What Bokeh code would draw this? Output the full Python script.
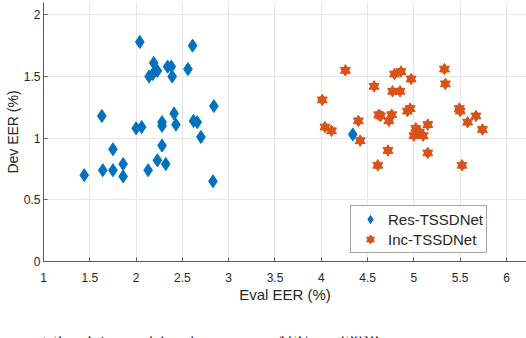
from bokeh.plotting import figure
from bokeh.models import Range1d, FixedTicker, Legend, LegendItem, Label
from bokeh.layouts import column
from bokeh.embed import file_html
from bokeh.resources import INLINE

# Res-TSSDNet (blue diamonds)
res_eval = [2.04, 2.61, 2.19, 2.14, 2.18, 2.23, 2.34, 2.38, 2.39, 2.56,
            1.63, 2.00, 2.06, 2.28, 2.28, 2.41, 2.43, 2.62, 2.66, 2.84,
            2.70, 1.75, 2.28, 2.23, 1.44, 1.64, 1.75, 1.86, 1.86, 2.13,
            2.32, 2.83, 4.34]
res_dev = [1.78, 1.75, 1.61, 1.50, 1.52, 1.545, 1.58, 1.58, 1.50, 1.56,
           1.18, 1.08, 1.09, 1.13, 1.10, 1.20, 1.11, 1.14, 1.13, 1.26,
           1.01, 0.91, 0.94, 0.82, 0.70, 0.74, 0.74, 0.79, 0.69, 0.74,
           0.79, 0.65, 1.03]

# Inc-TSSDNet (orange hexagrams)
inc_eval = [4.26, 4.01, 4.04, 4.11, 4.40, 4.42, 4.57, 4.62, 4.64, 4.73,
            4.76, 4.72, 4.61, 4.79, 4.86, 4.77, 4.85, 4.97, 4.93, 4.96,
            5.02, 5.00, 5.06, 5.10, 5.15, 5.15, 5.33, 5.34, 5.49, 5.50,
            5.58, 5.67, 5.74, 5.52]
inc_dev = [1.55, 1.31, 1.09, 1.06, 1.14, 0.98, 1.42, 1.19, 1.18, 1.14,
           1.19, 0.90, 0.78, 1.52, 1.54, 1.38, 1.38, 1.48, 1.22, 1.24,
           1.08, 1.02, 1.05, 1.02, 1.11, 0.88, 1.56, 1.44, 1.24, 1.22,
           1.13, 1.18, 1.07, 0.78]

x_ticks = [1, 1.5, 2, 2.5, 3, 3.5, 4, 4.5, 5, 5.5, 6]
x_tick_labels = ["1", "1.5", "2", "2.5", "3", "3.5", "4", "4.5", "5", "5.5", "6"]
y_ticks = [0, 0.5, 1, 1.5, 2]
y_tick_labels = ["0", "0.5", "1", "1.5", "2"]

series_names = ["Res-TSSDNet", "Inc-TSSDNet"]
caption = "Fig. 3.\u2003 Intra-model performance on ASVspoof2019"

BLUE = "#0072BD"
ORANGE = "#D95319"
AXC = "#262626"
FONT = "Liberation Sans"

p = figure(width=526, height=331, output_backend="svg", toolbar_location=None,
           x_range=Range1d(1, 6.216), y_range=Range1d(0, 2.1),
           min_border_left=43, min_border_right=0, min_border_top=2,
           min_border_bottom=70)
p.outline_line_color = None
p.background_fill_color = "white"

for ax in (p.xaxis[0], p.yaxis[0]):
    ax.axis_line_color = "#5a5a5a"
    ax.axis_line_width = 1
    ax.major_tick_line_color = "#5a5a5a"
    ax.major_tick_in = 4
    ax.major_tick_out = 0
    ax.minor_tick_line_color = None
    ax.major_label_text_font = FONT
    ax.major_label_text_font_size = "12px"
    ax.major_label_text_color = AXC
    ax.axis_label_text_font = FONT
    ax.axis_label_text_font_size = "15px"
    ax.axis_label_text_font_style = "normal"
    ax.axis_label_text_color = AXC

p.yaxis.axis_label_text_font_size = "14px"
p.xaxis.ticker = FixedTicker(ticks=x_ticks)
p.yaxis.ticker = FixedTicker(ticks=y_ticks)
p.xaxis.major_label_overrides = dict(zip(x_ticks, x_tick_labels))
p.yaxis.major_label_overrides = dict(zip(y_ticks, y_tick_labels))
p.xaxis.axis_label = "Eval EER (%)"
p.yaxis.axis_label = "Dev EER (%)"
p.xaxis.major_label_standoff = 11
p.xaxis.axis_label_standoff = 1
p.yaxis.major_label_standoff = 3
p.yaxis.axis_label_standoff = 0

p.xgrid.grid_line_color = "#e6e6e6"
p.ygrid.grid_line_color = "#e6e6e6"

r_res = p.scatter(res_eval, res_dev, marker="diamond", size=13,
                  fill_color=BLUE, line_color=BLUE)
r_tri = p.scatter(inc_eval, inc_dev, marker="triangle", size=10,
                  fill_color=ORANGE, line_color=ORANGE)
r_inv = p.scatter(inc_eval, inc_dev, marker="inverted_triangle", size=10,
                  fill_color=ORANGE, line_color=ORANGE)

legend = Legend(items=[LegendItem(label=series_names[0], renderers=[r_res]),
                       LegendItem(label=series_names[1], renderers=[r_tri, r_inv])],
                location=(307, 8), padding=3, margin=0, spacing=0,
                glyph_width=32, glyph_height=20, label_height=20,
                label_standoff=2,
                label_text_font=FONT, label_text_font_size="15px",
                label_text_color=AXC,
                border_line_color="#4d4d4d", border_line_width=1,
                background_fill_color="white", background_fill_alpha=1)
p.add_layout(legend, "center")

# caption strip: only the top of the caption line is visible, as in the reference
cap_fig = figure(width=526, height=7, output_backend="svg", toolbar_location=None,
                 x_range=Range1d(0, 1), y_range=Range1d(0, 1),
                 min_border_left=0, min_border_right=0, min_border_top=0,
                 min_border_bottom=0)
cap_fig.axis.visible = False
cap_fig.grid.visible = False
cap_fig.outline_line_color = None
cap = Label(x=-20, y=13, x_units="screen", y_units="screen", text=caption,
            text_baseline="top", text_font="Liberation Serif",
            text_font_size="16.5px", text_color="black")
cap_fig.add_layout(cap)

layout = column(p, cap_fig, spacing=0)
open("out.html", "w").write(file_html(layout, INLINE))
